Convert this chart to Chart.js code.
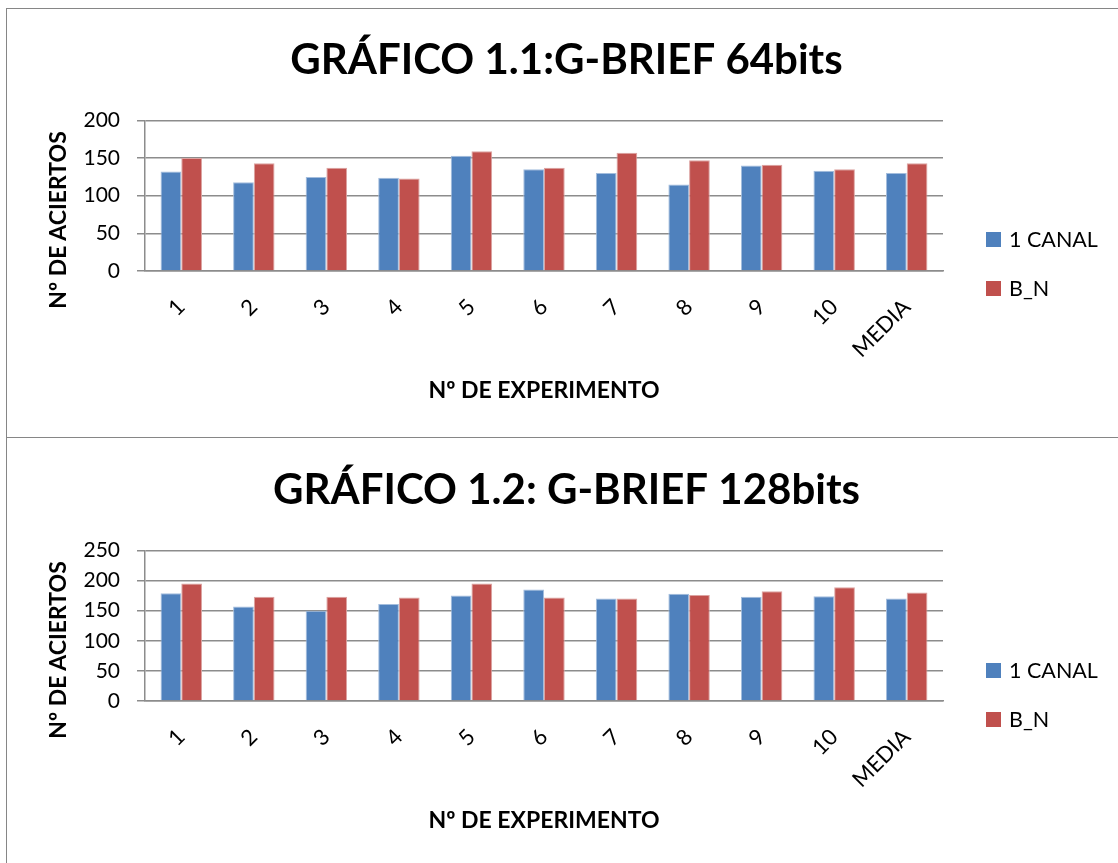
<!DOCTYPE html>
<html>
<head>
<meta charset="utf-8">
<script src="https://cdn.jsdelivr.net/npm/chart.js@4.4.0/dist/chart.umd.min.js"></script>
<style>
  html, body { margin: 0; padding: 0; background: #fff; width: 1118px; height: 863px; overflow: hidden; }
  .frame { position: absolute; left: 6px; width: 1200px; border: 1px solid #868686; box-sizing: border-box; }
  #frame1 { top: 8px; height: 430px; }
  #frame2 { top: 437px; height: 500px; }
  .wrap { position: absolute; left: 7px; width: 1111px; height: 428px; }
  #wrap1 { top: 9px; }
  #wrap2 { top: 439px; }
  .ytitle { position: absolute; font: bold 23px Lato, sans-serif; color: #000; white-space: nowrap;
            transform: translate(-50%, -50%) rotate(-90deg); }
  .legend { position: absolute; left: 986px; font: 21.5px Lato, sans-serif; color: #000; }
  .legend .item { position: absolute; left: 0; display: flex; align-items: center; white-space: nowrap; height: 24px; }
  .legend .sw { width: 15px; height: 15px; margin-right: 8px; }
</style>
</head>
<body>
<div class="frame" id="frame1"></div>
<div class="frame" id="frame2"></div>
<div class="wrap" id="wrap1"><canvas id="c1" width="1111" height="428"></canvas></div>
<div class="wrap" id="wrap2"><canvas id="c2" width="1111" height="428"></canvas></div>
<div class="ytitle" style="left:57px; top:220px;">Nº DE ACIERTOS</div>
<div class="ytitle" style="left:57px; top:650px;">Nº DE ACIERTOS</div>
<div class="legend" id="legend1" style="top:227px;"></div>
<div class="legend" id="legend2" style="top:658px;"></div>
<script>
// Experiment categories and series
const experiments = ['1', '2', '3', '4', '5', '6', '7', '8', '9', '10', 'MEDIA'];
const seriesNames = ['1 CANAL', 'B_N'];
const seriesColors = ['#4F81BD', '#C0504D'];
const seriesEdges = ['#A3BDDD', '#DCA3A1'];

// G-BRIEF 64 bits
const canal64 = [132, 118, 125, 124, 153, 135, 130, 115, 140, 133, 130];
const bn64    = [150, 143, 137, 123, 159, 137, 157, 147, 141, 135, 143];
const ticks64 = [0, 50, 100, 150, 200];

// G-BRIEF 128 bits
const canal128 = [179, 157, 150, 161, 175, 185, 170, 178, 173, 174, 170];
const bn128    = [195, 173, 173, 172, 195, 172, 170, 176, 182, 189, 180];
const ticks128 = [0, 50, 100, 150, 200, 250];

const title64 = 'GRÁFICO 1.1:G-BRIEF 64bits';
const title128 = 'GRÁFICO 1.2: G-BRIEF 128bits';
const xTitle = 'Nº DE EXPERIMENTO';

const GRID = '#8c8c8c';
const FONT = 'Lato';

function buildChart(canvasId, legendId, titleText, first, second, tickValues) {
  const step = tickValues[1] - tickValues[0];
  const chart = new Chart(document.getElementById(canvasId), {
    type: 'bar',
    data: {
      labels: experiments,
      datasets: [first, second].map((values, i) => ({
        label: seriesNames[i],
        data: values,
        backgroundColor: seriesColors[i],
        borderColor: seriesEdges[i],
        borderWidth: 1,
        borderSkipped: 'bottom',
        categoryPercentage: 0.571,
        barPercentage: 1
      }))
    },
    options: {
      responsive: false,
      animation: false,
      devicePixelRatio: 1,
      layout: { padding: { left: 8, right: 0, top: 0, bottom: 0 } },
      plugins: {
        legend: { display: false },
        tooltip: { enabled: false },
        title: {
          display: true,
          text: titleText,
          color: '#000',
          font: { family: FONT, size: 42, weight: 'bold' },
          padding: { top: 26, bottom: 35 }
        }
      },
      scales: {
        x: {
          grid: { display: false },
          border: { display: true, color: GRID, width: 1.5 },
          ticks: {
            color: '#000',
            font: { family: FONT, size: 22, lineHeight: 0.3 },
            minRotation: 45,
            maxRotation: 45,
            autoSkip: false,
            padding: 22
          },
          title: {
            display: true,
            text: xTitle,
            color: '#000',
            font: { family: FONT, size: 23, weight: 'bold' },
            padding: { top: 0, bottom: 33 }
          },
          afterFit: s => { s.height = 166; }
        },
        y: {
          min: tickValues[0],
          max: tickValues[tickValues.length - 1],
          ticks: {
            stepSize: step,
            color: '#000',
            font: { family: FONT, size: 21 },
            padding: 17
          },
          grid: { color: GRID, lineWidth: 1.5, tickLength: 8 },
          border: { display: true, color: GRID, width: 1.5 },
          afterFit: s => { s.width = 130; }
        },
        // space on the right reserved for the legend column
        legendSpace: {
          type: 'linear',
          axis: 'y',
          position: 'right',
          display: true,
          grid: { display: false },
          border: { display: false },
          ticks: { display: false },
          afterFit: s => { s.width = 175; }
        }
      }
    }
  });

  // legend built from the chart's own datasets
  const legend = document.getElementById(legendId);
  chart.data.datasets.forEach((ds, i) => {
    const item = document.createElement('div');
    item.className = 'item';
    item.style.top = (i * 49) + 'px';
    const sw = document.createElement('span');
    sw.className = 'sw';
    sw.style.background = ds.backgroundColor;
    const txt = document.createElement('span');
    txt.textContent = ds.label;
    item.appendChild(sw);
    item.appendChild(txt);
    legend.appendChild(item);
  });
  return chart;
}

buildChart('c1', 'legend1', title64, canal64, bn64, ticks64);
buildChart('c2', 'legend2', title128, canal128, bn128, ticks128);
</script>
</body>
</html>
